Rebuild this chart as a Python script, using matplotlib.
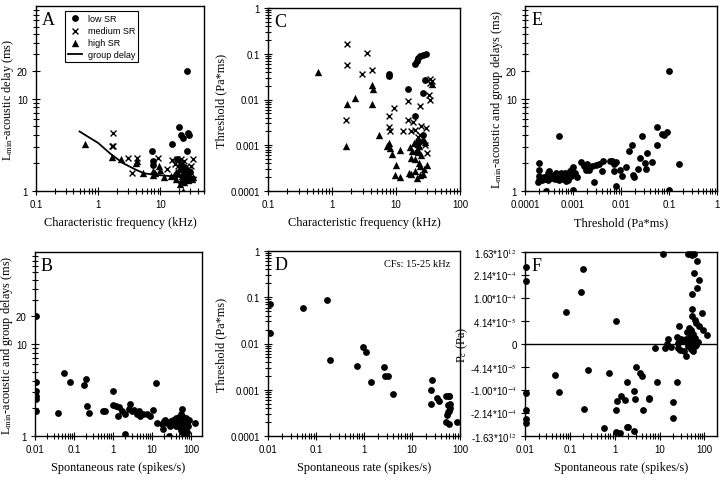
import numpy as np
import matplotlib
matplotlib.use("Agg")
import matplotlib.pyplot as plt
from matplotlib.ticker import (FixedLocator, FixedFormatter, FuncFormatter,
                               LogLocator, NullFormatter, NullLocator)

plt.rcParams['font.family'] = ['Liberation Sans', 'DejaVu Sans']
plt.rcParams['mathtext.fontset'] = 'stix'
SERIF = ['Liberation Serif', 'DejaVu Serif']

# ---------------- data ----------------
# A: CF (kHz) vs Lmin-acoustic delay (ms), by SR group
a_low_cf = [27, 19.7, 21, 23.2, 27.6, 29, 15.5, 7.3, 26.2, 7.5, 18.6, 7.7, 21.5, 24, 30, 26.4]
a_low_delay = [20, 4.9, 4.0, 3.74, 4.27, 4.0, 3.24, 2.7, 2.74, 2.13, 2.23, 1.9, 1.97, 1.8, 1.6, 1.7]
a_med_cf = [1.73, 1.73, 1.65, 2.97, 4.2, 3.5, 9.0, 15.5, 18.6, 21, 24, 33.6, 21, 30.5,
            12.8, 17, 26, 29, 23, 19]
a_med_delay = [4.27, 3.1, 3.05, 2.28, 2.3, 1.57, 2.28, 2.19, 2.2, 2.22, 2.1, 2.23, 1.73, 1.88,
               1.73, 1.95, 1.8, 1.65, 1.55, 1.85]
a_high_cf = [0.62, 1.67, 2.35, 4.2, 4.1, 5.3, 7.7, 10, 9.6, 11.2, 7.5, 8.3, 15, 16.5, 18, 19,
             20, 21, 22, 23, 24, 25, 26, 27, 28, 30, 32, 33, 23, 18, 20.5, 25.5]
a_high_delay = [3.2, 2.34, 2.22, 2.1, 2.0, 1.57, 1.65, 1.69, 1.87, 1.42, 1.5, 1.55, 1.45, 1.5,
                1.35, 1.55, 1.75, 1.3, 1.45, 1.6, 1.25, 1.4, 1.35, 1.55, 1.3, 1.45, 1.35, 1.4,
                1.0, 1.6, 1.2, 1.5]
group_cf = [0.5, 1.0, 1.6, 2.5, 4.0, 5.5, 10, 20, 37]
group_delay = [4.4, 3.3, 2.5, 2.0, 1.7, 1.55, 1.48, 1.42, 1.4]

# C: CF (kHz) vs threshold (Pa*ms)
c_low_cf = [7.8, 7.9, 20, 21, 22, 24, 26, 29, 28, 15.4, 26.5, 19.6, 21, 21, 26.4, 23]
c_low_thr = [0.037, 0.033, 0.06, 0.07, 0.08, 0.09, 0.095, 0.1, 0.027, 0.017, 0.014, 0.0044,
             0.001, 0.0007, 0.0017, 0.0012]
c_med_cf = [1.7, 1.7, 3.5, 2.97, 4.2, 1.65, 9.4, 7.8, 7.9, 8.0, 15.6, 13, 15.2, 18.7, 17,
            23.6, 34, 34, 33, 34, 25, 29, 28, 31, 22, 24, 20, 36]
c_med_thr = [0.16, 0.058, 0.105, 0.0356, 0.045, 0.0035, 0.0066, 0.0044, 0.0025, 0.0021,
             0.0092, 0.0021, 0.0036, 0.0033, 0.0021, 0.0073, 0.028, 0.023, 0.0127, 0.0098,
             0.0026, 0.0024, 0.001, 0.00067, 0.0015, 0.0017, 0.0022, 0.025]
c_high_cf = [0.6, 1.66, 1.7, 2.3, 4.2, 4.3, 4.2, 5.4, 7.2, 7.9, 8.0, 8.8, 10.1, 9.6, 11.5,
             11.5, 16.6, 17, 17, 18, 19, 20, 20, 21, 22, 22.5, 23, 24, 24, 25, 26.4, 26.5,
             27, 28, 31, 36, 21, 16]
c_high_thr = [0.04, 0.00097, 0.0078, 0.011, 0.021, 0.017, 0.0078, 0.0017, 0.00097, 0.0011,
              0.00086, 0.00063, 0.00037, 0.00022, 0.00079, 0.0002, 0.00093, 0.00053, 0.00023,
              0.00075, 0.0011, 0.0005, 0.00028, 0.00019, 0.0007, 0.0004, 0.00095, 0.00035,
              0.00022, 0.0006, 0.00023, 0.0014, 0.0003, 0.0012, 0.00037, 0.022, 0.0013, 0.00025]

# E: threshold (Pa*ms) vs delay (ms)
e_thr = [0.0002, 0.0002, 0.0002, 0.0002, 0.00019, 0.00021, 0.00023, 0.00025, 0.00027, 0.0003,
         0.0003, 0.00032, 0.00034, 0.00036, 0.0004, 0.00042, 0.00045, 0.0005, 0.00052, 0.00055,
         0.0006, 0.00063, 0.00068, 0.0007, 0.00075, 0.0008, 0.00085, 0.0009, 0.00095, 0.001,
         0.0011, 0.0012, 0.0005, 0.00027, 0.001, 0.0015, 0.0017, 0.0019, 0.002, 0.0022,
         0.0025, 0.0027, 0.003, 0.0035, 0.004, 0.0043, 0.006, 0.0065, 0.007, 0.0073, 0.008,
         0.0095, 0.0103, 0.0078, 0.013, 0.015, 0.0167, 0.018, 0.019, 0.023, 0.025, 0.027,
         0.032, 0.033, 0.034, 0.044, 0.055, 0.055, 0.07, 0.079, 0.09, 0.1, 0.1, 0.16]
e_delay = [2.0, 1.7, 1.45, 1.32, 1.25, 1.38, 1.3, 1.42, 1.35, 1.55, 1.3, 1.65, 1.45, 1.38,
           1.5, 1.35, 1.55, 1.45, 1.3, 1.55, 1.5, 1.35, 1.55, 1.28, 1.4, 1.3, 1.65, 1.45,
           1.75, 1.82, 1.55, 1.4, 3.9, 1.0, 1.03, 2.05, 1.85, 1.7, 1.95, 1.7, 1.85, 1.25,
           1.9, 1.95, 1.65, 2.1, 2.1, 2.1, 1.95, 1.65, 2.05, 1.69, 1.44, 1.13, 1.81, 2.73,
           3.16, 1.5, 1.4, 1.73, 2.26, 3.9, 2.0, 1.73, 2.6, 2.08, 4.9, 3.15, 4.17, 4.0, 4.3,
           20, 1.02, 1.96]

# B: spontaneous rate (spikes/s) vs delay (ms)
b_rate = [0.0105, 0.0105, 0.0105, 0.0105, 0.0105, 0.0105, 0.04, 0.055, 0.079, 0.18, 0.2,
          0.21, 0.24, 0.55, 0.62, 1.0, 1.0, 1.2, 1.4, 1.3, 1.66, 2.0, 2.0, 2.5, 2.7, 3.0,
          3.5, 4.0, 4.5, 5.0, 6.0, 7.5, 9.0, 10.7, 12.5, 13, 18, 19, 20, 22, 24, 27, 28, 30,
          33, 35, 38, 40, 42, 45, 48, 50, 52, 55, 58, 58, 60, 62, 63, 65, 68, 70, 72, 75,
          77, 80, 85, 90, 125, 60, 65, 70, 55, 45]
b_delay = [20, 3.9, 3.05, 2.75, 2.5, 1.86, 1.77, 4.9, 3.9, 3.6, 4.2, 2.1, 1.8, 1.86, 1.86,
           3.05, 2.15, 2.1, 2.05, 1.64, 1.87, 1.05, 1.75, 1.95, 2.2, 1.85, 1.9, 1.75, 1.85,
           1.65, 1.75, 1.72, 1.65, 1.92, 3.8, 1.4, 1.35, 1.2, 1.45, 1.5, 1.4, 1.0, 1.3, 1.45,
           1.35, 1.5, 1.4, 1.3, 1.55, 1.45, 1.35, 1.6, 1.25, 1.75, 1.95, 1.5, 1.4, 1.3, 1.6,
           1.45, 1.2, 1.5, 1.35, 1.55, 1.1, 1.4, 1.3, 1.5, 1.4, 1.1, 1.05, 1.0, 1.15, 1.3]

# D: spontaneous rate vs threshold, CFs 15-25 kHz
d_rate = [0.011, 0.011, 0.053, 0.172, 0.196, 0.70, 0.97, 1.09, 1.38, 2.6, 2.8, 3.1, 4.0,
          25.7, 25, 25, 33, 36, 52, 58, 60, 56, 58, 53, 63, 52, 60, 85, 62, 55]
d_thr = [0.071, 0.0166, 0.058, 0.087, 0.0045, 0.0032, 0.0083, 0.0066, 0.0015, 0.0031,
         0.002, 0.002, 0.00081, 0.0016, 0.001, 0.00049, 0.00065, 0.00058, 0.00074, 0.00074,
         0.00075, 0.00046, 0.00035, 0.00029, 0.0005, 0.0002, 0.00018, 0.0002, 0.0004, 0.00033]

# F: spontaneous rate vs Pc (Pa)
f_rate = [0.0105, 0.0105, 0.0105, 0.0105, 0.0105, 0.0105, 0.196, 0.176, 0.083, 1.04, 11.6,
          0.047, 0.056, 0.25, 0.74, 0.21, 0.59, 1.05, 1.3, 1.9, 2.0, 2.75, 3.0, 3.6, 4.1,
          1.85, 2.75, 2.9, 1.35, 1.7, 1.13, 1.04, 4.3, 5.7, 5.9, 8.9, 19.4, 19.4, 25,
          42, 50, 59, 53, 68, 59, 74, 68, 53, 52, 88, 52, 60, 65, 75, 27, 91, 116, 45, 50,
          40, 55, 48, 62, 38, 58, 25, 30, 33, 26, 15, 14.3, 13, 8, 17.7, 26, 29, 50, 55, 60,
          65, 38.6, 35, 45, 70, 42, 52]
f_pc = [3.9e-4, 1.83e-4, -1.125e-4, -2.06e-4, -3.44e-4, -4.4e-4, 3.25e-4, 1.22e-4, 6.0e-5,
        4.1e-5, 3.6e-3, -5.75e-5, -1.065e-4, -4.7e-5, -5.3e-5, -2.0e-4, -7.7e-4, -1.5e-3,
        -2.0e-3, -6.2e-4, -6.3e-4, -1.22e-3, -4.14e-5, -5.3e-5, -6.1e-5, -7.6e-5, -1.04e-4,
        -1.36e-4, -1.21e-4, -1.42e-4, -1.48e-4, -2.12e-4, -2.12e-4, -1.39e-4, -1.32e-4,
        -7.6e-5, -1.54e-4, -3.12e-4, -7.6e-5,
        2.5e-3, 2.5e-3, 2.5e-3, 1.7e-3, 6.3e-4, 2.71e-4, 1.96e-4, 1.42e-4, 1.15e-4, 6.7e-5,
        5.75e-5, 5.1e-5, 4.4e-5, 3.7e-5, 3.25e-5, 3.25e-5, 2.5e-5, 1.5e-5, 2.8e-5, 2.4e-5,
        2.0e-5, 1.8e-5, 1.2e-5, 9.8e-6, 7.9e-6, 5.9e-6, 1.2e-5, 7.9e-6, 5.9e-6, 2.4e-6,
        7.9e-6, 0.0, -6.7e-6, -6.7e-6, -4.7e-6, -6.7e-6, -9.5e-6, -7.9e-6, -1.18e-5, -3.9e-6,
        -2e-6, -2.1e-5, -1.2e-5, 2e-6, 3.9e-6, -3.9e-6, 0.0]
f_tick_labels = [r'-1.63*10$^{12}$', r'-2.14*10$^{-4}$', r'-1.00*10$^{-4}$', r'-4.14*10$^{-5}$',
                 '0', r'4.14*10$^{-5}$', r'1.00*10$^{-4}$', r'2.14*10$^{-4}$', r'1.63*10$^{12}$']

# ---------------- helpers ----------------
def fmt_g(v, pos):
    return '%g' % v


def style_axis(ax, letter, xlabel, ylabel, ypad=1):
    for s in ax.spines.values():
        s.set_linewidth(1.0)
    ax.tick_params(which='both', direction='inout', top=False, right=False,
                   labelsize=7, width=0.8, pad=3)
    ax.tick_params(which='major', length=6)
    ax.tick_params(which='minor', length=4)
    ax.set_xlabel(xlabel, family=SERIF, fontsize=8.8, labelpad=5)
    ax.set_ylabel(ylabel, family=SERIF, fontsize=8.8, labelpad=ypad)
    ax.text(0.035, 0.975, letter, transform=ax.transAxes, ha='left', va='top',
            family=SERIF, fontsize=13)


def log_x(ax, lo, hi):
    ax.set_xscale('log')
    ax.set_xlim(lo, hi)
    ax.xaxis.set_major_locator(LogLocator(base=10, numticks=20))
    ax.xaxis.set_minor_locator(LogLocator(base=10, subs=np.arange(2, 10), numticks=20))
    ax.xaxis.set_major_formatter(FuncFormatter(fmt_g))
    ax.xaxis.set_minor_formatter(NullFormatter())


def log_y(ax, lo, hi, labels=None):
    ax.set_yscale('log')
    ax.set_ylim(lo, hi)
    if labels is None:
        ax.yaxis.set_major_locator(LogLocator(base=10, numticks=20))
    else:
        ax.yaxis.set_major_locator(FixedLocator(labels))
    ax.yaxis.set_minor_locator(LogLocator(base=10, subs=np.arange(2, 10), numticks=20))
    ax.yaxis.set_major_formatter(FuncFormatter(fmt_g))
    ax.yaxis.set_minor_formatter(NullFormatter())


dot = dict(marker='o', s=24, color='black', linewidths=0)
cross = dict(marker='x', s=18, color='black', linewidths=1.0)
tri = dict(marker='^', s=28, color='black', linewidths=0)

fig = plt.figure(figsize=(7.2, 4.81), dpi=100)
W, H = 720.0, 481.0


def add_box(l, t, r, b):
    return fig.add_axes([l / W, 1 - b / H, (r - l) / W, (b - t) / H])


axA = add_box(36, 7, 204, 192)
axC = add_box(268, 9, 460, 192)
axE = add_box(525, 7, 717, 192)
axB = add_box(35, 253, 202, 437)
axD = add_box(268, 252, 460, 437)
axF = add_box(525, 253, 717, 437)

# ---- A ----
axA.scatter(a_low_cf, a_low_delay, **dot, label='low SR', zorder=3)
axA.scatter(a_med_cf, a_med_delay, **cross, label='medium SR', zorder=3)
axA.scatter(a_high_cf, a_high_delay, **tri, label='high SR', zorder=3)
axA.plot(group_cf, group_delay, color='black', lw=1.3, label='group delay', zorder=2)
log_x(axA, 0.1, 50)
log_y(axA, 1, 100, labels=[1, 10, 20])
style_axis(axA, 'A', 'Characteristic frequency (kHz)', r'L$_{\rm min}$-acoustic delay (ms)')
leg = axA.legend(loc='upper left', bbox_to_anchor=(0.17, 0.975), fontsize=6.5,
                 frameon=True, fancybox=False, edgecolor='black', framealpha=1,
                 handlelength=1.6, handletextpad=0.6, borderpad=0.35, labelspacing=0.35,
                 scatterpoints=1, borderaxespad=0)
leg.get_frame().set_linewidth(0.8)

# ---- C ----
axC.scatter(c_low_cf, c_low_thr, **dot, zorder=3)
axC.scatter(c_med_cf, c_med_thr, **cross, zorder=3)
axC.scatter(c_high_cf, c_high_thr, **tri, zorder=3)
log_x(axC, 0.1, 100)
log_y(axC, 0.0001, 1)
style_axis(axC, 'C', 'Characteristic frequency (kHz)', 'Threshold (Pa*ms)', ypad=2)

# ---- E ----
axE.scatter(e_thr, e_delay, **dot, zorder=3)
log_x(axE, 0.0001, 1)
log_y(axE, 1, 100, labels=[1, 10, 20])
style_axis(axE, 'E', 'Threshold (Pa*ms)', r'L$_{\rm min}$-acoustic and group delays (ms)')

# ---- B ----
axB.scatter(b_rate, b_delay, **dot, zorder=3)
log_x(axB, 0.01, 190)
log_y(axB, 1, 100, labels=[1, 10, 20])
style_axis(axB, 'B', 'Spontaneous rate (spikes/s)', r'L$_{\rm min}$-acoustic and group delays (ms)')

# ---- D ----
axD.scatter(d_rate, d_thr, **dot, zorder=3)
log_x(axD, 0.01, 100)
log_y(axD, 0.0001, 1)
style_axis(axD, 'D', 'Spontaneous rate (spikes/s)', 'Threshold (Pa*ms)', ypad=2)
axD.text(0.95, 0.93, 'CFs: 15-25 kHz', transform=axD.transAxes, ha='right', va='center',
         family=SERIF, fontsize=7.5)

# ---- F ----
scale_pa = 1e-4
axF.set_yscale('function', functions=(lambda y: np.arctan(np.asarray(y) / scale_pa),
                                      lambda t: scale_pa * np.tan(t)))
f_ticks = scale_pa * np.tan(np.arange(-4, 5) * np.pi / 8)
f_ticks[0], f_ticks[-1] = -scale_pa * np.tan(np.pi / 2), scale_pa * np.tan(np.pi / 2)
axF.scatter(f_rate, f_pc, **dot, zorder=3, clip_on=False)
axF.axhline(0, color='black', lw=1.0, zorder=2)
log_x(axF, 0.01, 190)
axF.set_ylim(f_ticks[0], f_ticks[-1])
axF.yaxis.set_major_locator(FixedLocator(f_ticks))
axF.yaxis.set_major_formatter(FixedFormatter(f_tick_labels))
axF.yaxis.set_minor_locator(NullLocator())
style_axis(axF, 'F', 'Spontaneous rate (spikes/s)', r'P$_{\rm c}$ (Pa)', ypad=0)

fig.savefig('out.png', dpi=100)
